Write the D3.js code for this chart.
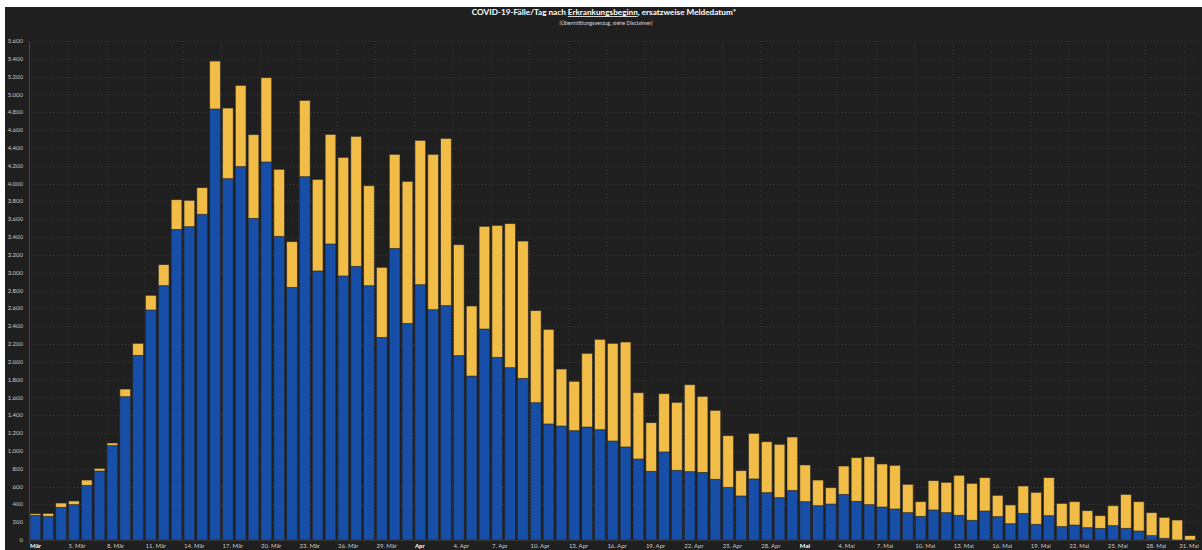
<!DOCTYPE html>
<html>
<head>
<meta charset="utf-8">
<script src="https://cdn.jsdelivr.net/npm/d3@7"></script>
<style>
  html, body { margin: 0; padding: 0; background: #ffffff; }
  svg { display: block; }
</style>
</head>
<body>
<svg id="chart" width="1202" height="550"></svg>
<script>
// ---- data ----
const categories = [
  "2020-03-02","2020-03-03","2020-03-04","2020-03-05","2020-03-06","2020-03-07","2020-03-08","2020-03-09","2020-03-10","2020-03-11",
  "2020-03-12","2020-03-13","2020-03-14","2020-03-15","2020-03-16","2020-03-17","2020-03-18","2020-03-19","2020-03-20","2020-03-21",
  "2020-03-22","2020-03-23","2020-03-24","2020-03-25","2020-03-26","2020-03-27","2020-03-28","2020-03-29","2020-03-30","2020-03-31",
  "2020-04-01","2020-04-02","2020-04-03","2020-04-04","2020-04-05","2020-04-06","2020-04-07","2020-04-08","2020-04-09","2020-04-10",
  "2020-04-11","2020-04-12","2020-04-13","2020-04-14","2020-04-15","2020-04-16","2020-04-17","2020-04-18","2020-04-19","2020-04-20",
  "2020-04-21","2020-04-22","2020-04-23","2020-04-24","2020-04-25","2020-04-26","2020-04-27","2020-04-28","2020-04-29","2020-04-30",
  "2020-05-01","2020-05-02","2020-05-03","2020-05-04","2020-05-05","2020-05-06","2020-05-07","2020-05-08","2020-05-09","2020-05-10",
  "2020-05-11","2020-05-12","2020-05-13","2020-05-14","2020-05-15","2020-05-16","2020-05-17","2020-05-18","2020-05-19","2020-05-20",
  "2020-05-21","2020-05-22","2020-05-23","2020-05-24","2020-05-25","2020-05-26","2020-05-27","2020-05-28","2020-05-29","2020-05-30",
  "2020-05-31"
];

// cases by date of illness onset (blue)
const erkrankungsbeginn = [
  277, 266, 367, 397, 613, 774, 1059, 1608, 2072, 2581,
  2854, 3486, 3516, 3655, 4837, 4055, 4190, 3610, 4242, 3408,
  2835, 4077, 3019, 3322, 2963, 3071, 2854, 2274, 3273, 2431,
  2865, 2585, 2630, 2069, 1840, 2368, 2050, 1934, 1814, 1541,
  1302, 1279, 1227, 1268, 1238, 1111, 1044, 909, 771, 988,
  782, 767, 759, 681, 591, 494, 685, 531, 475, 557,
  430, 385, 404, 512, 434, 397, 370, 348, 307, 266,
  337, 307, 277, 221, 325, 262, 183, 299, 176, 273,
  150, 168, 138, 131, 161, 131, 101, 49, 19, 0,
  0
];

// cases substituted by reporting date (yellow)
const meldedatum = [
  18, 33, 48, 41, 60, 30, 30, 86, 135, 165,
  236, 333, 296, 299, 538, 793, 912, 939, 946, 752,
  513, 857, 1028, 1230, 1331, 1459, 1122, 786, 1055, 1594,
  1620, 1743, 1877, 1245, 786, 1152, 1481, 1616, 1541, 1033,
  1062, 640, 554, 827, 1014, 1096, 1178, 744, 546, 654,
  763, 976, 853, 774, 580, 284, 512, 572, 599, 599,
  412, 288, 183, 318, 490, 538, 483, 490, 318, 164,
  329, 340, 449, 415, 375, 239, 210, 307, 359, 427,
  261, 262, 191, 142, 224, 381, 329, 258, 235, 224,
  49
];

const tickDates = [
  "2020-03-02","2020-03-05","2020-03-08","2020-03-11","2020-03-14","2020-03-17","2020-03-20","2020-03-23","2020-03-26","2020-03-29",
  "2020-04-01","2020-04-04","2020-04-07","2020-04-10","2020-04-13","2020-04-16","2020-04-19","2020-04-22","2020-04-25","2020-04-28",
  "2020-05-01","2020-05-04","2020-05-07","2020-05-10","2020-05-13","2020-05-16","2020-05-19","2020-05-22","2020-05-25","2020-05-28","2020-05-31"
];
const tickLabels = [
  "Mär","5. Mär","8. Mär","11. Mär","14. Mär","17. Mär","20. Mär","23. Mär","26. Mär","29. Mär",
  "Apr","4. Apr","7. Apr","10. Apr","13. Apr","16. Apr","19. Apr","22. Apr","25. Apr","28. Apr",
  "Mai","4. Mai","7. Mai","10. Mai","13. Mai","16. Mai","19. Mai","22. Mai","25. Mai","28. Mai","31. Mai"
];
const boldTicks = ["Mär","Apr","Mai"];
const yTicks = [0,200,400,600,800,1000,1200,1400,1600,1800,2000,2200,2400,2600,2800,3000,3200,3400,3600,3800,4000,4200,4400,4600,4800,5000,5200,5400,5600];

const seriesKeys = ["erkrankungsbeginn", "meldedatum"];
const seriesColors = { erkrankungsbeginn: "#164ea8", meldedatum: "#f2bd47" };

const titleParts = ["COVID-19-Fälle/Tag nach ", "Erkrankungsbeginn", ", ersatzweise Meldedatum*"];
const subtitle = "(Übermittlungsverzug, siehe Disclaimer)";

// ---- build ----
const rows = categories.map((c, i) => ({ date: c, erkrankungsbeginn: erkrankungsbeginn[i], meldedatum: meldedatum[i] }));
const stacked = d3.stack().keys(seriesKeys)(rows);

const svg = d3.select("#chart");
const W = 1202, H = 550;
const plot = { left: 29, right: 1196.5, top: 41, bottom: 540 };

svg.append("rect").attr("x", 5).attr("y", 7).attr("width", W - 5).attr("height", H - 7).attr("fill", "#1f1f1f");

const pad = 0.165;
const x = d3.scaleBand().domain(categories).range([plot.left, plot.right]).paddingInner(pad).paddingOuter(pad / 2);
const y = d3.scaleLinear().domain([0, 5600]).range([plot.bottom, plot.top]);

const fontFam = "Lato, 'Open Sans', 'DejaVu Sans', sans-serif";

// horizontal grid
svg.append("g").selectAll("line").data(yTicks).join("line")
  .attr("x1", plot.left).attr("x2", 1198)
  .attr("y1", d => Math.round(y(d)) + 0.5).attr("y2", d => Math.round(y(d)) + 0.5)
  .attr("stroke", "#353535").attr("stroke-width", 1).attr("stroke-dasharray", "1,2");

// vertical grid
const gap = x.step() * pad / 2;
svg.append("g").selectAll("line").data(tickDates).join("line")
  .attr("x1", d => Math.round(x(d) - gap) + 0.5).attr("x2", d => Math.round(x(d) - gap) + 0.5)
  .attr("y1", plot.top).attr("y2", plot.bottom)
  .attr("stroke", "#333333").attr("stroke-width", 1).attr("stroke-dasharray", "1,2");

// axis line
svg.append("line").attr("x1", plot.left + 0.5).attr("x2", plot.left + 0.5)
  .attr("y1", plot.top).attr("y2", plot.bottom + 4).attr("stroke", "#444").attr("stroke-width", 1);
svg.append("line").attr("x1", plot.left).attr("x2", 1198)
  .attr("y1", plot.bottom + 0.5).attr("y2", plot.bottom + 0.5).attr("stroke", "#3a3a3a").attr("stroke-width", 1);

// bars
svg.append("g").selectAll("g").data(stacked).join("g")
  .attr("fill", d => seriesColors[d.key])
  .selectAll("rect").data(d => d.filter(p => p[1] - p[0] > 0)).join("rect")
  .attr("x", d => x(d.data.date))
  .attr("width", x.bandwidth())
  .attr("y", d => y(d[1]))
  .attr("height", d => y(d[0]) - y(d[1]))
  .attr("stroke", "rgba(40,40,40,0.75)")
  .attr("stroke-width", 0.8);

// y labels
svg.append("g").selectAll("text").data(yTicks).join("text")
  .attr("x", 23).attr("y", d => y(d)).attr("dy", "0.35em")
  .attr("text-anchor", "end")
  .attr("fill", "#c8c8c8").attr("font-size", 6).attr("font-family", fontFam)
  .text(d => d3.format(",")(d).replace(/,/g, "."));

// x labels
const lastIdx = tickDates.length - 1;
svg.append("g").selectAll("text").data(tickDates).join("text")
  .attr("x", (d, i) => i === lastIdx ? 1199 : x(d)).attr("y", 548)
  .attr("text-anchor", (d, i) => i === lastIdx ? "end" : "start")
  .attr("fill", (d, i) => boldTicks.includes(tickLabels[i]) ? "#ffffff" : "#c8c8c8")
  .attr("font-weight", (d, i) => boldTicks.includes(tickLabels[i]) ? "bold" : "normal")
  .attr("font-size", 6).attr("font-family", fontFam)
  .text((d, i) => tickLabels[i]);

// title
const t = svg.append("text").attr("x", 604).attr("y", 15).attr("text-anchor", "middle")
  .attr("fill", "#ffffff").attr("font-size", 8.2).attr("font-weight", "bold").attr("font-family", fontFam);
t.append("tspan").text(titleParts[0]);
t.append("tspan").attr("text-decoration", "underline").text(titleParts[1]);
t.append("tspan").text(titleParts[2]);

svg.append("text").attr("x", 606).attr("y", 24.5).attr("text-anchor", "middle")
  .attr("fill", "#dddddd").attr("font-size", 5.4).attr("font-family", fontFam)
  .text(subtitle);
</script>
</body>
</html>
